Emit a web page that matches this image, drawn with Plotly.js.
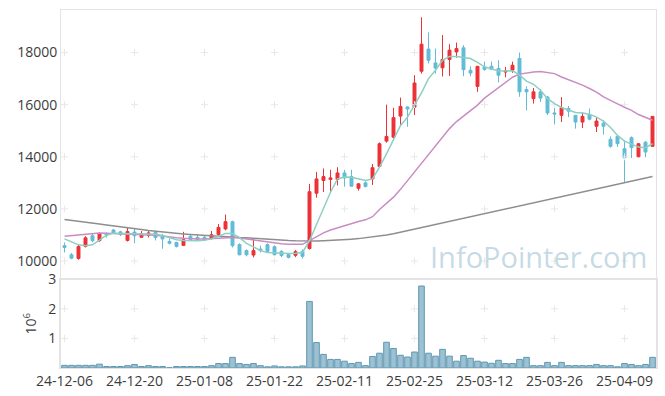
<!DOCTYPE html>
<html>
<head>
<meta charset="utf-8">
<script src="https://cdn.plot.ly/plotly-3.0.1.min.js"></script>
<style>html,body{margin:0;padding:0;background:#fff;}#chart{width:665px;height:396px;}</style>
</head>
<body>
<div id="chart"></div>
<script>
const dates = ["24-12-06","24-12-09","24-12-10","24-12-11","24-12-12","24-12-13","24-12-16","24-12-17","24-12-18","24-12-19",
"24-12-20","24-12-23","24-12-24","24-12-26","24-12-27","24-12-30","25-01-02","25-01-03","25-01-06","25-01-07",
"25-01-08","25-01-09","25-01-10","25-01-13","25-01-14","25-01-15","25-01-16","25-01-17","25-01-20","25-01-21",
"25-01-22","25-01-23","25-01-24","25-01-31","25-02-03","25-02-04","25-02-05","25-02-06","25-02-07","25-02-10",
"25-02-11","25-02-12","25-02-13","25-02-14","25-02-17","25-02-18","25-02-19","25-02-20","25-02-21","25-02-24",
"25-02-25","25-02-26","25-02-27","25-02-28","25-03-04","25-03-05","25-03-06","25-03-07","25-03-10","25-03-11",
"25-03-12","25-03-13","25-03-14","25-03-17","25-03-18","25-03-19","25-03-20","25-03-21","25-03-24","25-03-25",
"25-03-26","25-03-27","25-03-28","25-03-31","25-04-01","25-04-02","25-04-03","25-04-04","25-04-07","25-04-08",
"25-04-09","25-04-10","25-04-11","25-04-14","25-04-15"];

const openP = [10590,10240,10100,10560,10970,10780,11040,11190,11120,10790,
11110,10910,10980,11100,10930,10750,10710,10600,10950,10910,
10910,10880,11020,11230,11510,10630,10400,10230,10460,10630,
10550,10370,10250,10220,10370,10480,12600,13090,13130,13130,
13380,13240,12790,13000,13150,13630,14600,14750,15560,15910,
15900,17280,18130,17600,17410,17730,18020,18180,17320,16700,
17440,17470,17390,17250,17320,17770,16580,16230,16490,16290,
15680,15590,15850,15590,15330,15620,15170,15290,14670,14780,
14310,14730,14000,14560,14400];
const highP = [10710,10310,10650,10950,11050,11100,11100,11230,11160,11300,
11270,11150,11190,11130,11040,10870,10740,11120,11000,11000,
10960,11150,11420,11780,11550,10680,10450,10850,10590,10680,
10600,10420,10280,10420,10450,12960,13420,13550,13500,13600,
13500,13500,12990,13060,13720,14550,16000,15880,16270,15930,
17130,19350,18770,18150,18670,18320,18380,18280,17470,17480,
17650,17650,17700,17450,17650,18000,16700,16640,16600,16330,
15970,16290,15950,15590,15700,15850,15500,15400,14780,14820,
14630,14780,14520,14600,15550];
const lowP = [10330,10070,10050,10520,10720,10740,10900,11040,10960,10750,
10680,10900,10900,10790,10470,10640,10520,10580,10780,10800,
10780,10830,10970,11180,10520,10220,10180,10140,10330,10330,
10220,10150,10100,10150,10100,10440,12430,12650,12650,12900,
12850,12870,12700,12820,12920,13600,14540,14700,15200,15150,
15600,17190,17580,17190,17080,17100,17800,17090,17090,16490,
17300,17330,16850,17050,17220,16300,15780,16040,16100,15600,
15240,15330,15520,15080,15100,15400,14950,14850,14350,14380,
13020,13950,13980,13980,14380];
const closeP = [10520,10110,10560,10890,10780,11040,11000,11080,11020,11130,
10970,11040,11080,10900,10850,10680,10560,10820,10830,10830,
10820,11010,11290,11510,10590,10240,10240,10400,10400,10370,
10240,10210,10140,10360,10180,12660,13150,13240,13190,13380,
13190,12870,12960,12860,13580,14500,14780,15500,15930,15830,
16830,18320,17700,17400,17730,18090,18150,17340,17210,17470,
17350,17350,17130,17290,17510,16490,16490,16490,16250,15680,
15640,15880,15750,15330,15550,15440,15370,15170,14400,14500,
13960,14350,14500,14180,15550];

const ma5 = [10850,10720,10620,10590,10620,10800,10990,11070,11060,11040,
11050,11040,11040,11030,10980,10900,10820,10790,10780,10780,
10800,10850,10950,11060,11060,10900,10680,10550,10400,10330,
10310,10300,10290,10300,10330,10780,11420,12060,12640,13150,
13220,13210,13150,13090,13150,13600,14110,14630,15200,15520,
15980,16450,17000,17320,17700,17850,17850,17800,17770,17620,
17450,17370,17300,17290,17300,17130,16900,16780,16550,16230,
16040,15890,15810,15700,15680,15630,15520,15370,15120,14820,
14600,14470,14370,14350,14500];
const ma20 = [10950,10980,11010,11040,11070,11075,11070,11060,11050,11040,
11040,11030,11010,10990,10960,10920,10890,10870,10850,10850,
10850,10860,10880,10900,10900,10880,10840,10800,10760,10720,
10690,10660,10640,10640,10640,10780,10930,11080,11190,11280,
11350,11430,11520,11580,11700,11980,12200,12450,12750,13080,
13450,13780,14100,14400,14750,15080,15350,15550,15750,15980,
16250,16450,16650,16850,17050,17170,17220,17250,17270,17240,
17190,17060,16960,16860,16750,16620,16480,16300,16180,16030,
15900,15780,15620,15500,15400];
const ma60 = [11590,11560,11520,11490,11450,11420,11380,11350,11310,11280,
11240,11210,11170,11140,11110,11080,11060,11040,11020,11000,
10990,10970,10960,10940,10920,10900,10890,10870,10850,10840,
10820,10810,10790,10780,10770,10760,10770,10780,10790,10800,
10820,10840,10860,10890,10920,10960,11000,11050,11110,11170,
11230,11290,11350,11410,11470,11530,11590,11640,11700,11760,
11820,11880,11940,12000,12060,12120,12170,12230,12290,12350,
12410,12470,12530,12590,12640,12700,12760,12820,12880,12940,
13000,13060,13120,13180,13240];

const volumeM = [0.09,0.09,0.09,0.09,0.09,0.13,0.05,0.05,0.05,0.08,
0.12,0.05,0.08,0.05,0.05,0.01,0.05,0.05,0.05,0.05,
0.05,0.08,0.15,0.15,0.36,0.15,0.12,0.15,0.08,0.04,
0.07,0.04,0.04,0.04,0.07,2.25,0.86,0.46,0.29,0.29,
0.23,0.15,0.19,0.08,0.39,0.50,0.87,0.66,0.43,0.37,
0.54,2.77,0.50,0.40,0.63,0.40,0.23,0.42,0.33,0.23,
0.20,0.16,0.26,0.15,0.15,0.29,0.36,0.08,0.08,0.19,
0.08,0.19,0.08,0.08,0.08,0.08,0.12,0.08,0.08,0.04,
0.15,0.12,0.08,0.12,0.36];

const tickIdx = [0,10,20,30,40,50,60,70,80];
const tickDates = tickIdx.map(i => dates[i]);
const priceTicks = [10000,12000,14000,16000,18000];
const volTicks = [1,2,3];
const volGrid = [1,2];

// grid cross markers at tick intersections
const gx = [], gy = [];
tickDates.forEach(d => priceTicks.forEach(v => { gx.push(d); gy.push(v); }));
const vgx = [], vgy = [];
tickDates.forEach(d => volGrid.forEach(v => { vgx.push(d); vgy.push(v); }));

const FONT = '"Open Sans", "DejaVu Sans", sans-serif';
const frame = '#e3e3e3';
const tickFont = {family:FONT, size:14, color:'#3c3c3c'};

const traces = [
  {type:'bar', x:dates, y:volumeM, xaxis:'x', yaxis:'y2',
   marker:{color:'#9cc1d3', line:{color:'#5f97b1', width:1}}},
  {type:'scatter', mode:'lines', x:dates, y:ma60, xaxis:'x2', yaxis:'y',
   line:{color:'#8e8e8e', width:1.5}},
  {type:'scatter', mode:'markers', x:gx, y:gy, xaxis:'x2', yaxis:'y',
   marker:{symbol:'cross-thin', size:5, line:{width:1, color:'#e8e8e8'}}, hoverinfo:'skip'},
  {type:'scatter', mode:'markers', x:vgx, y:vgy, xaxis:'x', yaxis:'y2',
   marker:{symbol:'cross-thin', size:5, line:{width:1, color:'#e8e8e8'}}, hoverinfo:'skip'},
  {type:'scatter', mode:'lines', x:dates, y:ma20, xaxis:'x2', yaxis:'y',
   line:{color:'#c98cc4', width:1.5}},
  {type:'scatter', mode:'lines', x:dates, y:ma5, xaxis:'x2', yaxis:'y',
   line:{color:'#8ccfc3', width:1.5}},
  {type:'candlestick', x:dates, open:openP, high:highP, low:lowP, close:closeP,
   xaxis:'x2', yaxis:'y', whiskerwidth:0,
   increasing:{line:{color:'#ec3237', width:1}, fillcolor:'#ec3237'},
   decreasing:{line:{color:'#62bcd6', width:1}, fillcolor:'#62bcd6'}}
];

const layout = {
  width:665, height:396,
  margin:{l:61, r:9, t:10, b:28},
  paper_bgcolor:'#ffffff', plot_bgcolor:'#ffffff',
  showlegend:false, hovermode:false,
  font:{family:FONT, size:14, color:'#3c3c3c'},
  boxgap:0.4,
  xaxis:{type:'category', categoryorder:'array', categoryarray:dates,
    anchor:'y2', domain:[0,1], range:[-0.5,84.5],
    tickvals:tickDates, ticktext:tickDates, tickangle:0, ticks:'', showgrid:false,
    showline:true, mirror:true, linecolor:frame, linewidth:1, zeroline:false,
    rangeslider:{visible:false}, tickfont:tickFont},
  xaxis2:{type:'category', categoryorder:'array', categoryarray:dates,
    anchor:'y', matches:'x', range:[-0.5,84.5],
    showticklabels:false, ticks:'', showgrid:false, showline:true, mirror:true,
    linecolor:frame, linewidth:1, zeroline:false, rangeslider:{visible:false}},
  yaxis:{domain:[0.25,1], range:[9330,19630], tickvals:priceTicks, tickformat:'d',
    showgrid:false, zeroline:false, showline:true, mirror:true, linecolor:frame,
    linewidth:1, ticks:'', tickfont:tickFont},
  yaxis2:{domain:[0,0.248], range:[0,3], tickvals:volTicks, showgrid:false,
    zeroline:false, showline:true, mirror:true, linecolor:frame, linewidth:2, ticks:'',
    title:{text:'10<sup>6</sup>', font:tickFont, standoff:8},
    tickfont:tickFont},
  annotations:[{text:'InfoPointer.com', xref:'paper', yref:'paper', x:0.803, y:0.312,
    xanchor:'center', yanchor:'middle', showarrow:false,
    font:{family:FONT, size:29, color:'rgba(160,194,212,0.6)'}}]
};

Plotly.newPlot('chart', traces, layout, {staticPlot:true, displayModeBar:false});
</script>
</body>
</html>
